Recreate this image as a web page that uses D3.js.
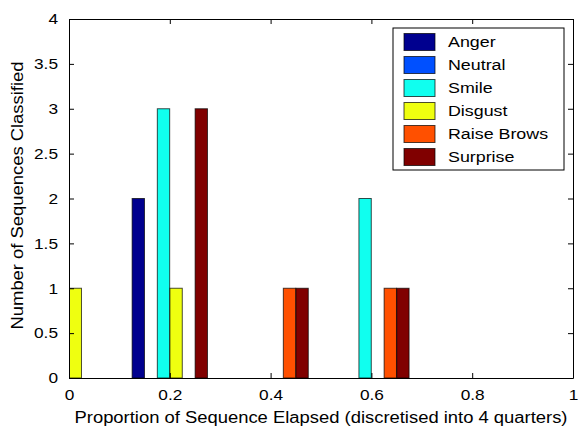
<!DOCTYPE html>
<meta charset="utf-8">
<style>
body { margin: 0; background: #fff; }
text { font-family: Arial, "Liberation Sans", Helvetica, sans-serif; }
.axis path, .axis line { stroke: #000; }
.bars rect { stroke-opacity: 0.7; stroke-width: 1px; }
</style>
<svg></svg>
<script src="https://cdn.jsdelivr.net/npm/d3@7"></script>
<script>

// group centres on the x axis (quarters)
var groups = [0, 0.2, 0.4, 0.6];

var seriesNames = ["Anger", "Neutral", "Smile", "Disgust", "Raise Brows", "Surprise"];
var seriesColors = ["#00008F", "#0050FF", "#10FFEF", "#EFFF10", "#FF5000", "#800000"];

var anger      = [0, 2, 0, 0];
var neutral    = [0, 0, 0, 0];
var smile      = [0, 3, 0, 2];
var disgust    = [1, 1, 0, 0];
var raiseBrows = [0, 0, 1, 1];
var surprise   = [0, 3, 1, 1];

var xTicks = [0, 0.2, 0.4, 0.6, 0.8, 1];
var yTicks = [0, 0.5, 1, 1.5, 2, 2.5, 3, 3.5, 4];

var series = [anger, neutral, smile, disgust, raiseBrows, surprise];

var width = 583,
    height = 432;

var margin = {top: 19, right: 10, bottom: 54, left: 69};

// the original glyphs are a bit wider than Arial
var stretchK = 1.15;

var svg = d3.select("svg")
    .attr("width", width)
    .attr("height", height);

var x = d3.scaleLinear().domain([0, 1]).range([margin.left, width - margin.right]);
var y = d3.scaleLinear().domain([0, 4]).range([height - margin.bottom, margin.top]);

// offset of each bar inside a group (in x units)
var step = 0.025;
var barW = 0.0245;

svg.append("defs").append("clipPath")
    .attr("id", "clip")
  .append("rect")
    .attr("x", x(0))
    .attr("y", y(4))
    .attr("width", x(1) - x(0))
    .attr("height", y(0) - y(4));

var barData = [];
series.forEach(function(vals, si) {
  vals.forEach(function(v, gi) {
    barData.push({s: si, x: groups[gi] + (si - 2.5) * step, v: v});
  });
});

svg.append("g")
    .attr("class", "bars")
    .attr("clip-path", "url(#clip)")
  .selectAll("rect")
  .data(barData)
  .enter().append("rect")
    .attr("x", function(d) { return x(d.x - barW / 2); })
    .attr("width", function(d) { return x(d.x + barW / 2) - x(d.x - barW / 2); })
    .attr("y", function(d) { return y(d.v); })
    .attr("height", function(d) { return y(0) - y(d.v); })
    .attr("fill", function(d) { return seriesColors[d.s]; })
    .attr("stroke", function(d) { return d.v === 0 ? seriesColors[d.s] : "#000"; });

// axes: ticks pointing inward, box on all sides
var fmt = function(d) { return d3.format("")(d); };

svg.append("g")
    .attr("class", "axis")
    .attr("transform", "translate(0," + y(0) + ")")
    .call(d3.axisBottom(x).tickValues(xTicks).tickFormat(fmt).tickSizeInner(-5).tickSizeOuter(0).tickPadding(11));

svg.append("g")
    .attr("class", "axis")
    .attr("transform", "translate(" + x(0) + ",0)")
    .call(d3.axisLeft(y).tickValues(yTicks).tickFormat(fmt).tickSizeInner(-5).tickSizeOuter(0).tickPadding(11));

svg.append("g")
    .attr("class", "axis")
    .attr("transform", "translate(0," + y(4) + ")")
    .call(d3.axisTop(x).tickValues(xTicks).tickFormat("").tickSizeInner(-5).tickSizeOuter(0));

svg.append("g")
    .attr("class", "axis")
    .attr("transform", "translate(" + x(1) + ",0)")
    .call(d3.axisRight(y).tickValues(yTicks).tickFormat("").tickSizeInner(-5).tickSizeOuter(0));

svg.selectAll(".axis text")
    .attr("font-size", "15px")
    .attr("fill", "#000")
    .style("font-family", "Arial, 'Liberation Sans', sans-serif");

svg.append("text")
    .attr("x", (x(0) + x(1)) / 2)
    .attr("y", 423)
    .attr("text-anchor", "middle")
    .attr("font-size", "16px")
    .text("Proportion of Sequence Elapsed (discretised into 4 quarters)");

svg.append("text")
    .attr("transform", "translate(23," + ((y(0) + y(4)) / 2 - 3) + ") rotate(-90)")
    .attr("text-anchor", "middle")
    .attr("font-size", "16px")
    .text("Number of Sequences Classified");

// legend
var legend = svg.append("g")
    .attr("transform", "translate(393,28)");

legend.append("rect")
    .attr("width", 171)
    .attr("height", 142)
    .attr("fill", "#fff")
    .attr("stroke", "#000");

var item = legend.selectAll("g.item")
    .data(seriesNames)
  .enter().append("g")
    .attr("class", "item")
    .attr("transform", function(d, i) { return "translate(0," + (14 + i * 23) + ")"; });

item.append("rect")
    .attr("x", 11)
    .attr("y", -8.5)
    .attr("width", 31)
    .attr("height", 17)
    .attr("fill", function(d, i) { return seriesColors[i]; })
    .attr("stroke", "#000")
    .attr("stroke-opacity", 0.7);

item.append("text")
    .attr("x", 55)
    .attr("dy", "0.35em")
    .attr("font-size", "15.5px")
    .text(function(d) { return d; });

// widen every label along its own baseline
svg.selectAll("text").each(function() {
  var len = this.getComputedTextLength();
  if (len > 0) {
    d3.select(this)
        .attr("textLength", len * stretchK)
        .attr("lengthAdjust", "spacingAndGlyphs");
  }
});

</script>
